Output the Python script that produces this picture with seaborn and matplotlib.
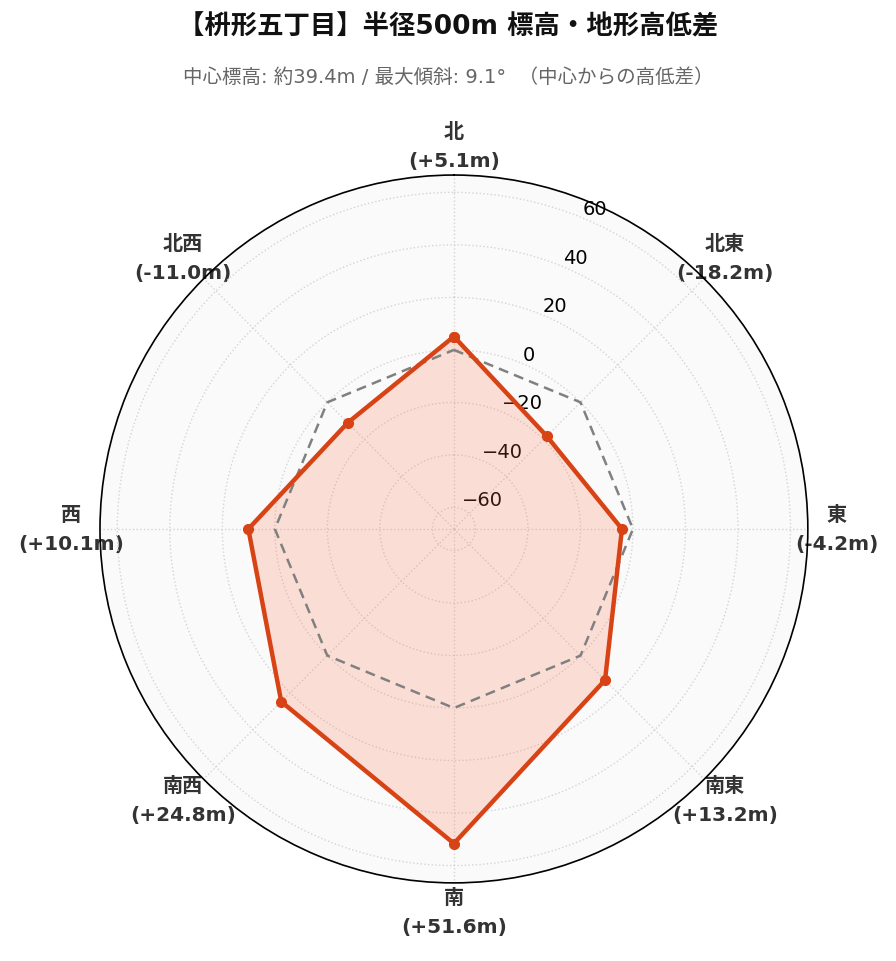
import numpy as np
import matplotlib
matplotlib.use("Agg")
import matplotlib.pyplot as plt
import seaborn as sns

# --- datos ---
direcciones = ["北", "北東", "東", "南東", "南", "南西", "西", "北西"]
diferencias = [5.1, -18.2, -4.2, 13.2, 51.6, 24.8, 10.1, -11.0]
anillos = [-60, -40, -20, 0, 20, 40, 60]
titulo = "【枡形五丁目】半径500m 標高・地形高低差"
subtitulo = "中心標高: 約39.4m / 最大傾斜: 9.1°  （中心からの高低差）"

sns.set_theme(style="white")
plt.rcParams['font.family'] = ['DejaVu Sans', 'Noto Sans CJK JP']

fig = plt.figure(figsize=(8.96, 9.62), dpi=100)
ax = fig.add_axes([0.1116, 0.0811, 0.790, 0.736], projection="polar")
ax.set_theta_zero_location("N")
ax.set_theta_direction(-1)
ax.set_facecolor("#fafafa")

angulos = np.linspace(0, 2 * np.pi, len(direcciones), endpoint=False)
ang_cerrado = np.concatenate([angulos, angulos[:1]])
vals_cerrado = np.concatenate([diferencias, diferencias[:1]])
cero = np.zeros_like(ang_cerrado)

rmin = min(diferencias) - 50
rmax = max(diferencias) + 15
ax.set_ylim(rmin, rmax)

# linea de referencia (0m)
ax.plot(ang_cerrado, cero, color="gray", linestyle="--", linewidth=1.8, dashes=(4, 2.5), zorder=2)
# poligono de diferencias
ax.fill(ang_cerrado, vals_cerrado, color="#FF7043", alpha=0.2, zorder=1)
ax.plot(ang_cerrado, vals_cerrado, color="#D84315", linewidth=3.2, marker="o", markersize=7, zorder=3)

etiquetas = [f"{d}\n({v:+.1f}m)" for d, v in zip(direcciones, diferencias)]
ax.set_xticks(angulos)
ax.set_xticklabels(etiquetas, fontsize=14.5, fontweight="bold", color="#333333", linespacing=1.7)
ax.tick_params(axis="x", pad=8)

ax.set_yticks(anillos)
ax.set_yticklabels([f"{a}".replace("-", "\u2212") for a in anillos], fontsize=14, color="black")
ax.set_rlabel_position(22.5)

ax.grid(True, color="#d4d4d4", linestyle=":", linewidth=1.0)
ax.spines["polar"].set_color("black")
ax.spines["polar"].set_linewidth(1.2)

fig.text(0.5, 0.971, titulo, ha="center", va="center", fontsize=19, fontweight="bold", color="#111111")
fig.text(0.5, 0.92, subtitulo, ha="center", va="center", fontsize=14, color="#666666")

fig.savefig("out.png", dpi=100)
plt.close(fig)
